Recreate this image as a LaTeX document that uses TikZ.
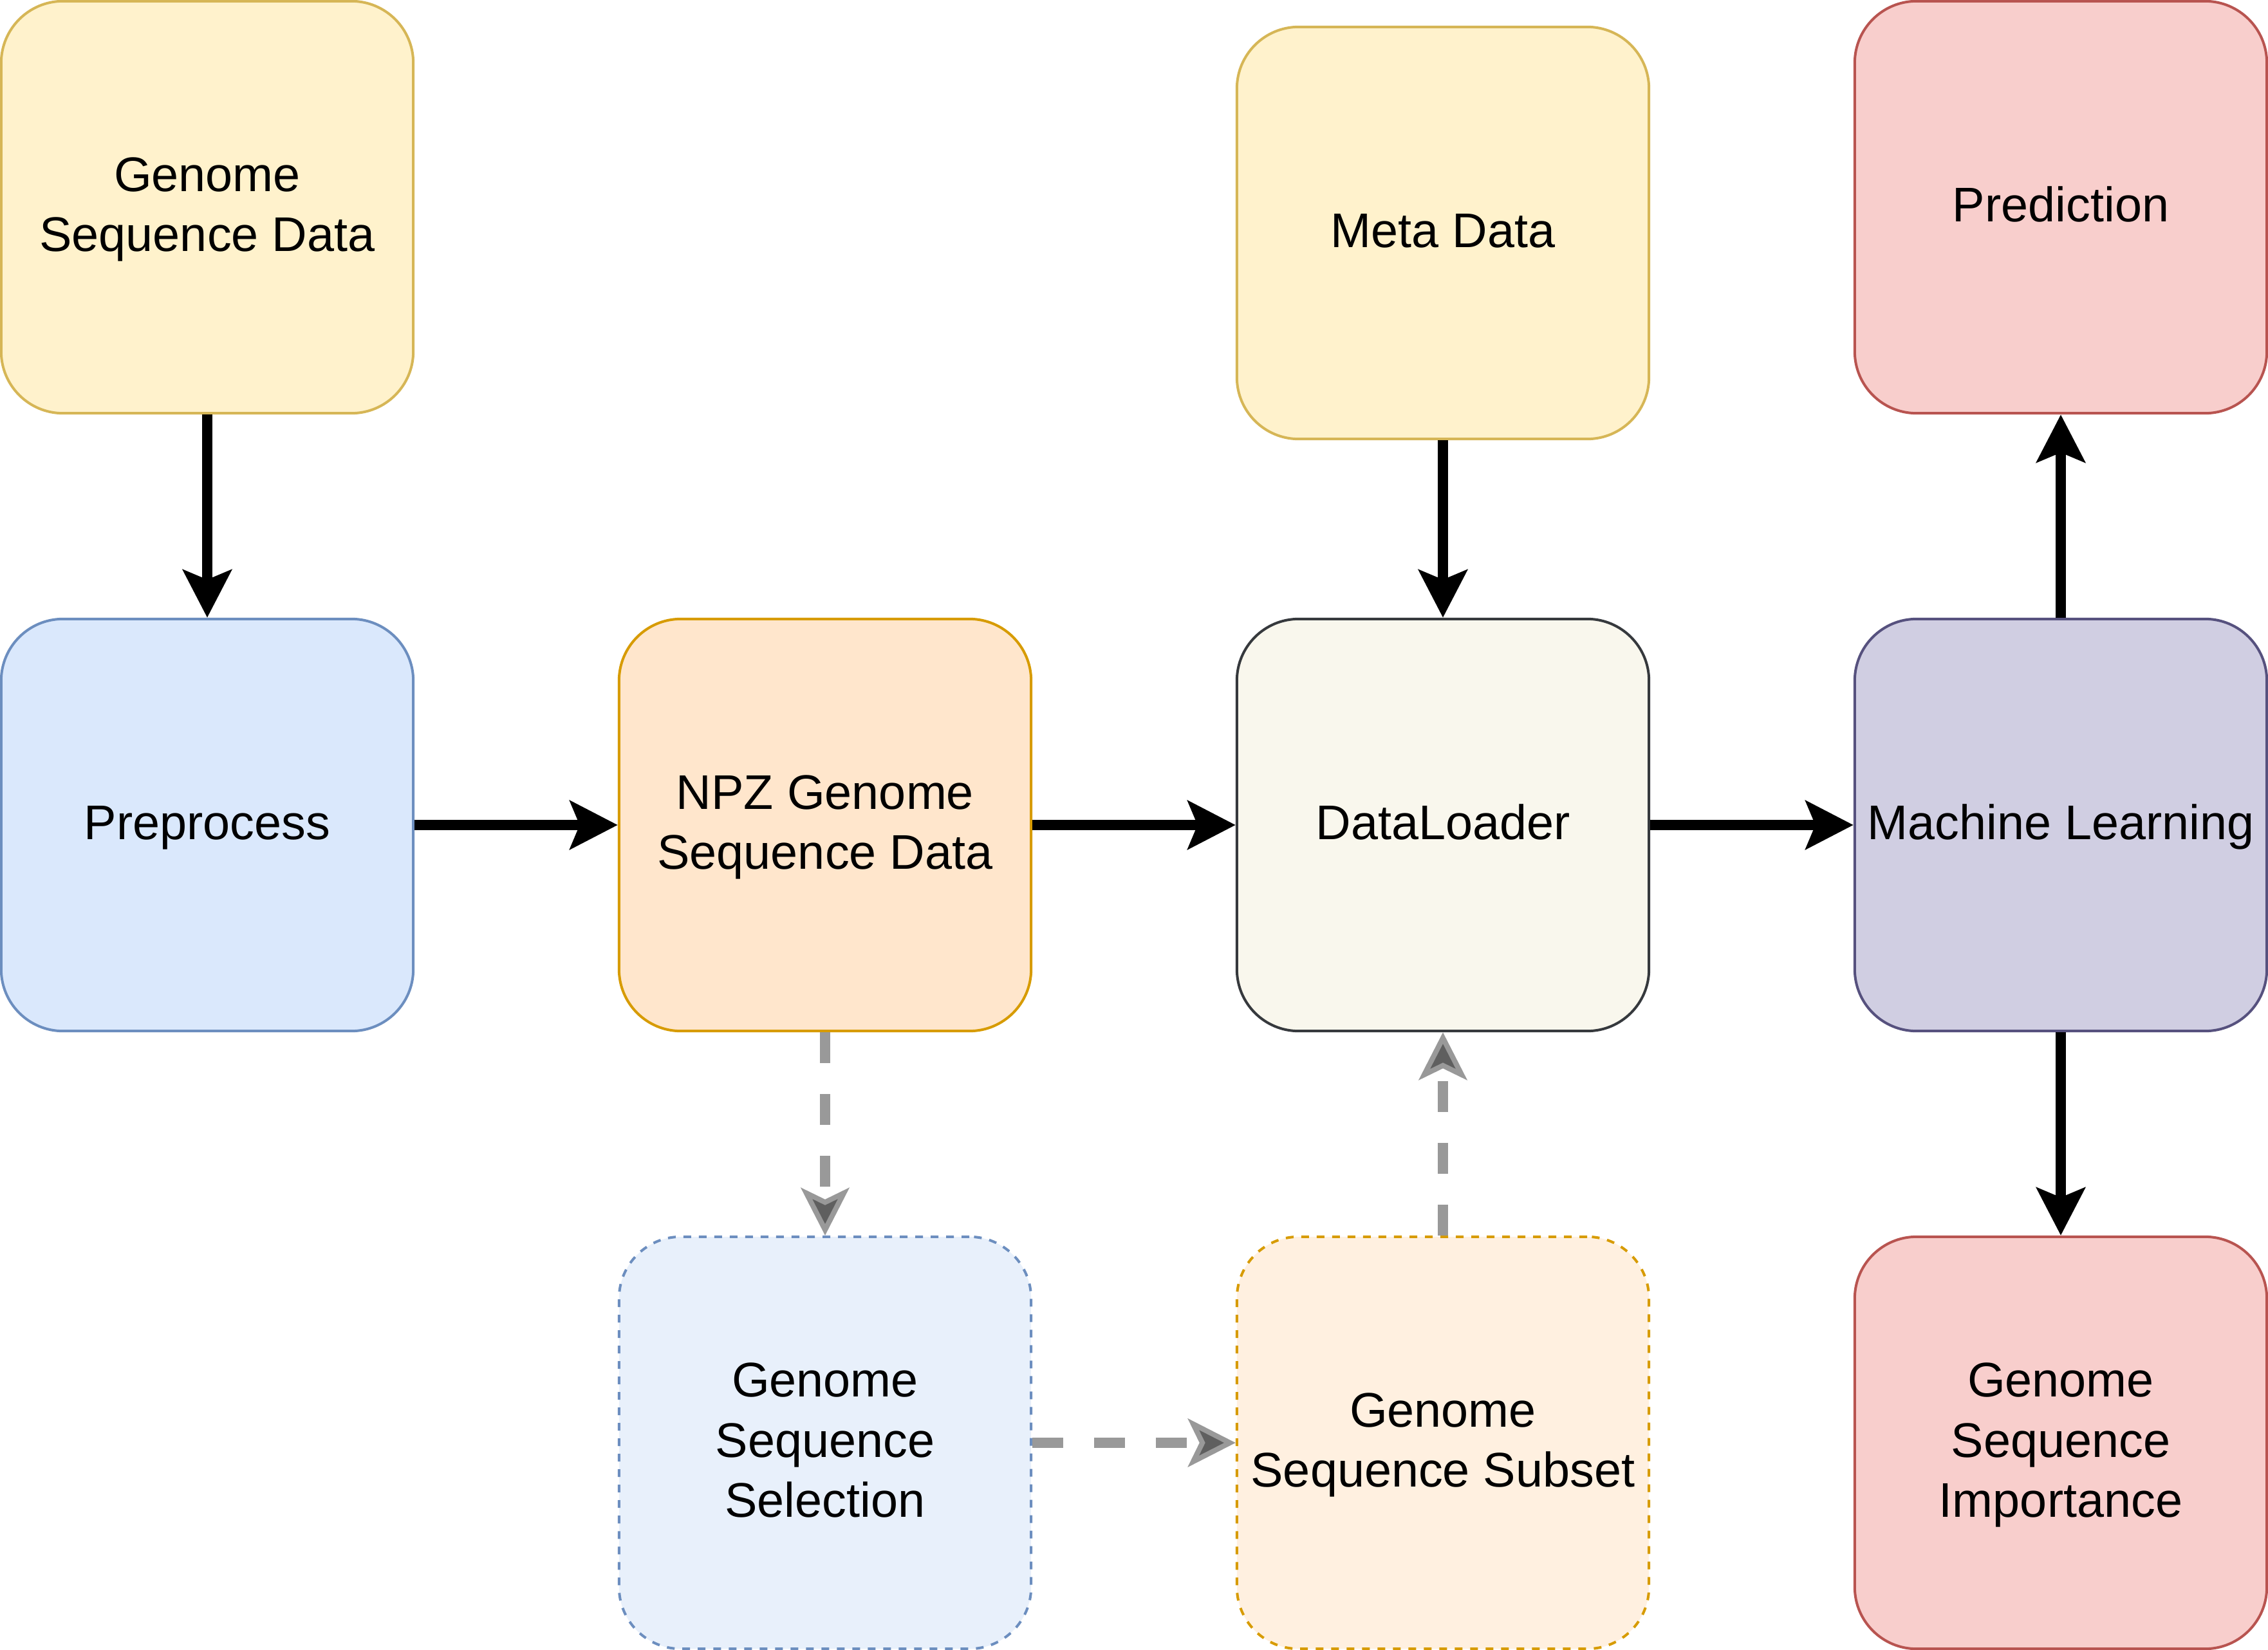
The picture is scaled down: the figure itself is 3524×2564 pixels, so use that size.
\documentclass[tikz,border=0pt]{standalone}
\usepackage{fontspec}
\setmainfont{Liberation Sans}
\usetikzlibrary{arrows.meta}
\definecolor{yfill}{HTML}{FFF2CC}\definecolor{ydraw}{HTML}{D6B656}
\definecolor{rfill}{HTML}{F8CECC}\definecolor{rdraw}{HTML}{B85450}
\definecolor{bfill}{HTML}{DAE8FC}\definecolor{bdraw}{HTML}{6C8EBF}
\definecolor{ofill}{HTML}{FFE6CC}\definecolor{odraw}{HTML}{D79B00}
\definecolor{gfill}{HTML}{F9F7ED}\definecolor{gdraw}{HTML}{36393D}
\definecolor{pfill}{HTML}{D0CEE2}\definecolor{pdraw}{HTML}{56517E}
\definecolor{lbfill}{HTML}{E8F0FB}\definecolor{lofill}{HTML}{FFF0E0}
\definecolor{dgray}{HTML}{999999}\definecolor{dtip}{HTML}{5F5F5F}
\newcommand\lnstrut{\rule[-0.22cm]{0pt}{0.88cm}}
\begin{document}
\begin{tikzpicture}[x=0.01cm,y=-0.01cm,
  box/.style={rounded corners=0.96cm, minimum width=6.4cm, minimum height=6.4cm,
    line width=0.04cm, inner sep=0pt, align=center,
    font=\fontsize{21.5}{26.5}\selectfont},
  dbox/.style={box, dash pattern=on 0.12cm off 0.12cm},
  flow/.style={line width=0.16cm, -{Stealth[length=0.74cm, width=0.75cm, inset=0.15cm]}},
  dflow/.style={line width=0.16cm, draw=dgray, dash pattern=on 0.48cm off 0.48cm,
    -{Stealth[length=0.74cm, width=0.75cm, inset=0.18cm, fill=dtip, line width=0.08cm]}}]
\useasboundingbox (0,0) rectangle (3524,2564);

\node[box, fill=yfill, draw=ydraw] (gsd) at (322,322) {\lnstrut Genome\\\lnstrut Sequence Data};
\node[box, fill=yfill, draw=ydraw] (meta) at (2242,362) {\lnstrut Meta Data};
\node[box, fill=rfill, draw=rdraw] (pred) at (3202,322) {\lnstrut Prediction};

\node[box, fill=bfill, draw=bdraw] (pre) at (322,1282) {\lnstrut Preprocess};
\node[box, fill=ofill, draw=odraw] (npz) at (1282,1282) {\lnstrut NPZ Genome\\\lnstrut Sequence Data};
\node[box, fill=gfill, draw=gdraw] (dl) at (2242,1282) {\lnstrut DataLoader};
\node[box, fill=pfill, draw=pdraw] (ml) at (3202,1282) {\lnstrut Machine Learning};

\node[dbox, fill=lbfill, draw=bdraw] (sel) at (1282,2242) {\lnstrut Genome\\\lnstrut Sequence\\\lnstrut Selection};
\node[dbox, fill=lofill, draw=odraw] (sub) at (2242,2242) {\lnstrut Genome\\\lnstrut Sequence Subset};
\node[box, fill=rfill, draw=rdraw] (imp) at (3202,2242) {\lnstrut Genome\\\lnstrut Sequence\\\lnstrut Importance};

\draw[flow] (gsd) -- (pre);
\draw[flow] (meta) -- (dl);
\draw[flow] (pre) -- (npz);
\draw[flow] (npz) -- (dl);
\draw[flow] (dl) -- (ml);
\draw[flow] (ml) -- (pred);
\draw[flow] (ml) -- (imp);

\draw[dflow] (npz) -- (sel);
\draw[dflow] (sel) -- (sub);
\draw[dflow] (sub) -- (dl);
\end{tikzpicture}
\end{document}
